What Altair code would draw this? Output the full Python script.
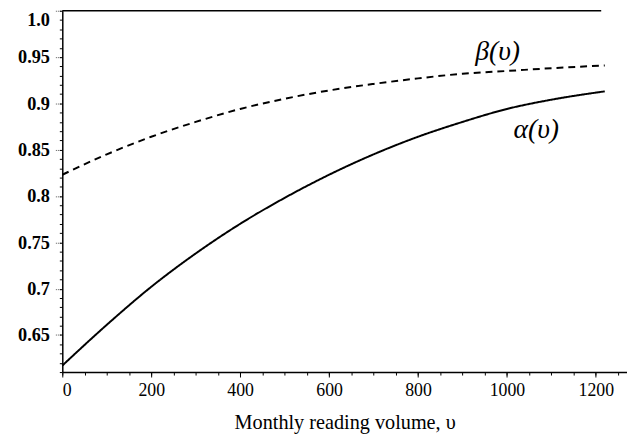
import altair as alt
import pandas as pd

# Monthly reading volume (x) and the two curves
volume = [0, 100, 200, 300, 400, 500, 600, 700, 800, 900, 1000, 1100, 1220]
alpha_vals = [0.617, 0.661, 0.702, 0.738, 0.770, 0.798, 0.823, 0.845, 0.864, 0.880, 0.894, 0.904, 0.913]
beta_vals = [0.823, 0.845, 0.864, 0.880, 0.894, 0.905, 0.914, 0.921, 0.927, 0.932, 0.935, 0.938, 0.941]

x_ticks = [0, 200, 400, 600, 800, 1000, 1200]
x_minor = list(range(0, 1251, 50))
y_ticks = [0.65, 0.7, 0.75, 0.8, 0.85, 0.9, 0.95, 1.0]
y_minor = [round(0.61 + 0.01 * i, 2) for i in range(40)]

labels = ["β(υ)", "α(υ)"]
label_x = [979, 1066]
label_y = [0.955, 0.871]

top_x = [0, 1212]
top_y = [1.0, 1.0]

rows = []
for v, a in zip(volume, alpha_vals):
    rows.append({"v": v, "val": a, "series": "alpha"})
for v, b in zip(volume, beta_vals):
    rows.append({"v": v, "val": b, "series": "beta"})
df = pd.DataFrame(rows)
lab_df = pd.DataFrame({"v": label_x, "val": label_y, "text": labels})
top_df = pd.DataFrame({"v": top_x, "val": top_y})

XDOM = [0, 1270]
YDOM = [0.61, 1.0]
FONT = "Liberation Serif"

xs = alt.Scale(domain=XDOM, nice=False, zero=False)
ys = alt.Scale(domain=YDOM, nice=False, zero=False)

x_major = alt.X(
    "v:Q",
    scale=xs,
    axis=alt.Axis(
        values=x_ticks, title="Monthly reading volume, υ", grid=False, format="d",
        labelFont=FONT, labelFontSize=18, labelColor="black", labelPadding=5,
        titleFont=FONT, titleFontSize=20.5, titleFontWeight="normal", titleColor="black",
        titlePadding=13, domainColor="black", domainWidth=1.5,
        tickColor="black", tickSize=5, orient="bottom",
    ),
)
y_major = alt.Y(
    "val:Q",
    scale=ys,
    axis=alt.Axis(
        values=y_ticks, title=None, grid=False, labelFlush=True,
        labelExpr="datum.value == 1 ? '1.0' : format(datum.value, '.2~f')",
        labelFont=FONT, labelFontSize=18.5, labelFontWeight="bold", labelColor="black",
        labelPadding=5, domainColor="black", domainWidth=1.5,
        tickColor="#555555", tickSize=8, tickDash=[1, 1], orient="left",
    ),
)

lines = alt.Chart(df).mark_line(color="black", strokeWidth=2, interpolate="monotone").encode(
    x=x_major,
    y=y_major,
    strokeDash=alt.StrokeDash(
        "series:N",
        scale=alt.Scale(domain=["alpha", "beta"], range=[[1, 0], [7, 5]]),
        legend=None,
    ),
    detail="series:N",
)

minor = alt.Chart(df).mark_point(opacity=0).encode(
    x=alt.X("v:Q", scale=xs,
            axis=alt.Axis(values=x_minor, labels=False, title=None, domain=False,
                          grid=False, tickColor="black", tickSize=3, orient="bottom")),
    y=alt.Y("val:Q", scale=ys,
            axis=alt.Axis(values=y_minor, labels=False, title=None, domain=False,
                          grid=False, tickColor="black", tickSize=3, orient="left")),
)

top_rule = alt.Chart(top_df).mark_line(color="black", strokeWidth=1.5).encode(
    x=alt.X("v:Q", scale=xs, axis=None),
    y=alt.Y("val:Q", scale=ys, axis=None),
)

texts = alt.Chart(lab_df).mark_text(
    font=FONT, fontSize=28, fontStyle="italic", color="black"
).encode(
    x=alt.X("v:Q", scale=xs, axis=None),
    y=alt.Y("val:Q", scale=ys, axis=None),
    text="text:N",
)

chart = (
    alt.layer(lines, minor, top_rule, texts)
    .resolve_axis(x="independent", y="independent")
    .properties(
        width=572, height=366,
        autosize=alt.AutoSizeParams(type="none"),
        padding={"left": 55, "top": 0, "right": 0, "bottom": 65},
        background="white",
    )
    .configure_view(stroke=None)
)

chart.save("out.html", embed_options={"renderer": "svg", "actions": False})
